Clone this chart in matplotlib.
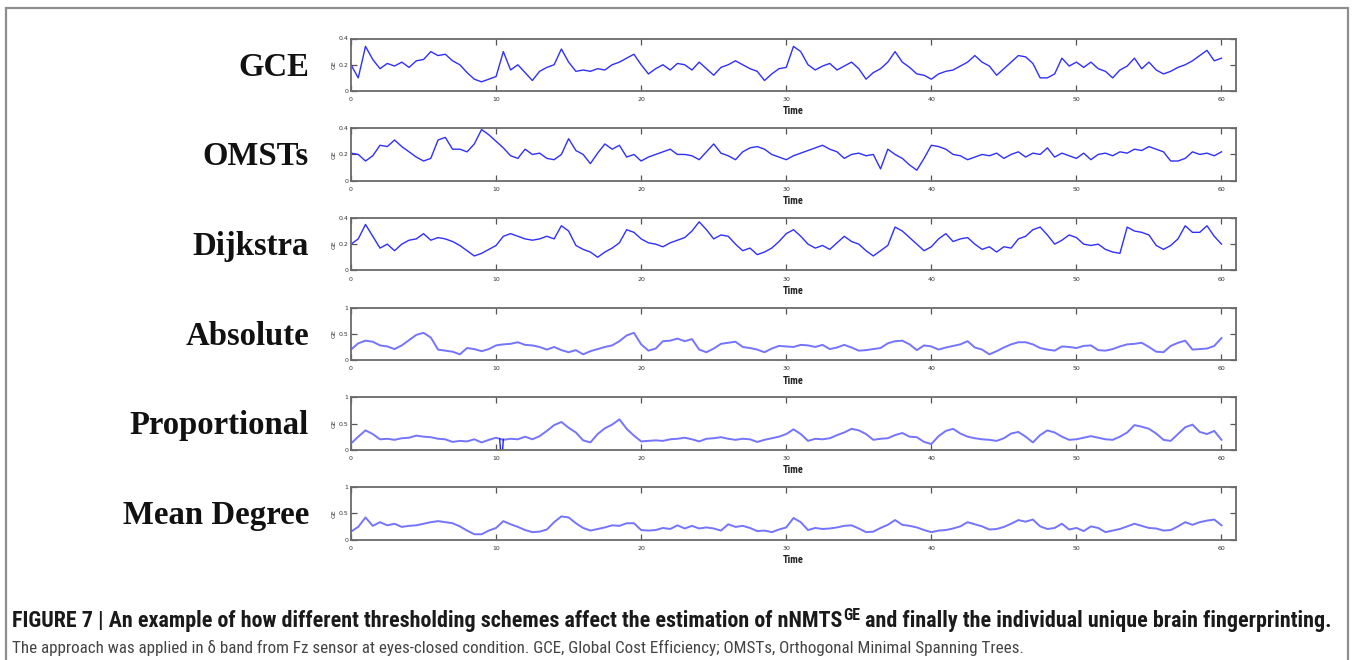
import os
import numpy as np
import matplotlib
matplotlib.use("Agg")
import matplotlib.pyplot as plt
from matplotlib.patches import Rectangle
from matplotlib import font_manager as fm

# ---------------- data (0.5 s steps, 0..60 s) ----------------
TIME = np.arange(0, 60.5, 0.5)

GCE = [0.20, 0.10, 0.34, 0.24, 0.17, 0.21, 0.19, 0.22, 0.18, 0.23,
       0.24, 0.30, 0.27, 0.28, 0.23, 0.20, 0.14, 0.09, 0.07, 0.09,
       0.11, 0.30, 0.16, 0.20, 0.14, 0.08, 0.15, 0.18, 0.20, 0.32,
       0.22, 0.15, 0.16, 0.15, 0.17, 0.16, 0.20, 0.22, 0.25, 0.28,
       0.20, 0.13, 0.17, 0.20, 0.16, 0.21, 0.20, 0.16, 0.22, 0.17,
       0.12, 0.18, 0.20, 0.23, 0.20, 0.17, 0.15, 0.08, 0.13, 0.17,
       0.18, 0.34, 0.30, 0.20, 0.16, 0.19, 0.21, 0.16, 0.19, 0.22,
       0.17, 0.09, 0.14, 0.17, 0.22, 0.30, 0.22, 0.18, 0.13, 0.12,
       0.09, 0.13, 0.15, 0.16, 0.19, 0.22, 0.27, 0.22, 0.19, 0.12,
       0.17, 0.22, 0.27, 0.26, 0.21, 0.10, 0.10, 0.13, 0.25, 0.19,
       0.22, 0.18, 0.22, 0.17, 0.15, 0.10, 0.16, 0.19, 0.25, 0.17,
       0.22, 0.16, 0.13, 0.15, 0.18, 0.20, 0.23, 0.27, 0.31, 0.23,
       0.25]

OMSTS = [0.21, 0.20, 0.15, 0.19, 0.27, 0.26, 0.31, 0.26, 0.22, 0.18,
         0.15, 0.17, 0.31, 0.33, 0.24, 0.24, 0.22, 0.28, 0.39, 0.35,
         0.30, 0.25, 0.19, 0.17, 0.24, 0.20, 0.21, 0.17, 0.16, 0.20,
         0.32, 0.23, 0.20, 0.13, 0.21, 0.28, 0.24, 0.27, 0.18, 0.20,
         0.15, 0.18, 0.20, 0.22, 0.24, 0.20, 0.20, 0.19, 0.16, 0.22,
         0.28, 0.21, 0.19, 0.16, 0.22, 0.25, 0.26, 0.24, 0.20, 0.18,
         0.16, 0.19, 0.21, 0.23, 0.25, 0.27, 0.24, 0.22, 0.17, 0.20,
         0.21, 0.19, 0.20, 0.09, 0.24, 0.20, 0.17, 0.12, 0.08, 0.17,
         0.27, 0.26, 0.24, 0.20, 0.19, 0.16, 0.18, 0.20, 0.19, 0.21,
         0.17, 0.20, 0.22, 0.18, 0.21, 0.20, 0.25, 0.18, 0.21, 0.19,
         0.17, 0.21, 0.16, 0.20, 0.21, 0.19, 0.22, 0.21, 0.24, 0.23,
         0.26, 0.24, 0.22, 0.15, 0.15, 0.17, 0.22, 0.20, 0.21, 0.19,
         0.22]

DIJKSTRA = [0.20, 0.24, 0.35, 0.26, 0.17, 0.20, 0.15, 0.20, 0.23, 0.24,
            0.28, 0.23, 0.25, 0.24, 0.22, 0.19, 0.15, 0.11, 0.13, 0.16,
            0.19, 0.26, 0.28, 0.26, 0.24, 0.23, 0.24, 0.26, 0.24, 0.34,
            0.30, 0.19, 0.16, 0.14, 0.10, 0.14, 0.17, 0.21, 0.31, 0.29,
            0.24, 0.21, 0.20, 0.18, 0.21, 0.23, 0.25, 0.30, 0.37, 0.31,
            0.24, 0.27, 0.26, 0.20, 0.15, 0.17, 0.12, 0.14, 0.17, 0.22,
            0.28, 0.31, 0.26, 0.20, 0.17, 0.19, 0.16, 0.21, 0.26, 0.22,
            0.20, 0.15, 0.11, 0.15, 0.19, 0.33, 0.30, 0.25, 0.20, 0.15,
            0.18, 0.24, 0.28, 0.22, 0.24, 0.25, 0.20, 0.16, 0.18, 0.14,
            0.18, 0.17, 0.24, 0.26, 0.31, 0.33, 0.27, 0.20, 0.23, 0.27,
            0.25, 0.20, 0.19, 0.20, 0.16, 0.14, 0.13, 0.33, 0.30, 0.29,
            0.27, 0.19, 0.16, 0.19, 0.24, 0.34, 0.29, 0.29, 0.34, 0.26,
            0.20]

ABSOLUTE = [0.20, 0.32, 0.37, 0.35, 0.28, 0.26, 0.21, 0.28, 0.38, 0.48,
            0.52, 0.43, 0.20, 0.18, 0.16, 0.11, 0.23, 0.21, 0.17, 0.21,
            0.28, 0.30, 0.31, 0.34, 0.29, 0.28, 0.25, 0.20, 0.25, 0.19,
            0.15, 0.19, 0.11, 0.17, 0.21, 0.25, 0.28, 0.36, 0.47, 0.52,
            0.30, 0.18, 0.22, 0.36, 0.37, 0.41, 0.36, 0.40, 0.20, 0.15,
            0.22, 0.31, 0.33, 0.35, 0.25, 0.23, 0.20, 0.15, 0.22, 0.27,
            0.26, 0.25, 0.29, 0.28, 0.25, 0.29, 0.21, 0.24, 0.29, 0.24,
            0.18, 0.19, 0.21, 0.23, 0.32, 0.36, 0.37, 0.30, 0.19, 0.28,
            0.26, 0.20, 0.24, 0.27, 0.30, 0.36, 0.24, 0.20, 0.11, 0.17,
            0.24, 0.30, 0.34, 0.34, 0.30, 0.23, 0.20, 0.18, 0.26, 0.25,
            0.23, 0.27, 0.28, 0.19, 0.18, 0.21, 0.26, 0.30, 0.31, 0.33,
            0.25, 0.16, 0.15, 0.27, 0.33, 0.37, 0.20, 0.21, 0.22, 0.27,
            0.42]

PROPORTIONAL = [0.12, 0.25, 0.37, 0.30, 0.20, 0.21, 0.19, 0.22, 0.23, 0.27,
                0.25, 0.24, 0.21, 0.20, 0.15, 0.17, 0.16, 0.20, 0.14, 0.19,
                0.23, 0.19, 0.21, 0.20, 0.25, 0.20, 0.26, 0.36, 0.47, 0.53,
                0.42, 0.33, 0.18, 0.14, 0.30, 0.41, 0.48, 0.58, 0.40, 0.27,
                0.16, 0.17, 0.18, 0.17, 0.20, 0.21, 0.23, 0.20, 0.16, 0.21,
                0.22, 0.24, 0.21, 0.19, 0.21, 0.20, 0.15, 0.19, 0.22, 0.25,
                0.30, 0.39, 0.30, 0.17, 0.21, 0.20, 0.22, 0.28, 0.33, 0.40,
                0.37, 0.30, 0.19, 0.21, 0.22, 0.28, 0.32, 0.25, 0.24, 0.15,
                0.11, 0.26, 0.36, 0.40, 0.31, 0.25, 0.22, 0.20, 0.19, 0.17,
                0.22, 0.31, 0.34, 0.25, 0.14, 0.28, 0.37, 0.33, 0.25, 0.19,
                0.20, 0.23, 0.26, 0.23, 0.20, 0.19, 0.25, 0.33, 0.47, 0.44,
                0.40, 0.31, 0.19, 0.17, 0.30, 0.43, 0.48, 0.34, 0.30, 0.36,
                0.19]
PROP_GLITCH_T = [10.25, 10.30, 10.45, 10.50]
PROP_GLITCH_V = [0.21, 0.00, 0.00, 0.20]

MEAN_DEGREE = [0.15, 0.24, 0.42, 0.26, 0.33, 0.27, 0.30, 0.24, 0.26, 0.27,
               0.30, 0.33, 0.35, 0.33, 0.31, 0.25, 0.17, 0.10, 0.10, 0.17,
               0.22, 0.35, 0.29, 0.24, 0.18, 0.14, 0.15, 0.19, 0.33, 0.44,
               0.42, 0.31, 0.22, 0.17, 0.20, 0.23, 0.27, 0.26, 0.31, 0.31,
               0.18, 0.17, 0.18, 0.22, 0.20, 0.27, 0.21, 0.26, 0.21, 0.23,
               0.21, 0.17, 0.29, 0.24, 0.26, 0.22, 0.16, 0.17, 0.14, 0.19,
               0.23, 0.41, 0.33, 0.18, 0.22, 0.20, 0.21, 0.23, 0.26, 0.27,
               0.21, 0.14, 0.15, 0.22, 0.28, 0.37, 0.28, 0.26, 0.23, 0.18,
               0.14, 0.17, 0.18, 0.21, 0.25, 0.33, 0.29, 0.25, 0.19, 0.20,
               0.24, 0.30, 0.37, 0.34, 0.38, 0.25, 0.20, 0.22, 0.30, 0.19,
               0.22, 0.16, 0.25, 0.22, 0.14, 0.17, 0.20, 0.25, 0.30, 0.26,
               0.22, 0.21, 0.17, 0.18, 0.25, 0.33, 0.28, 0.33, 0.36, 0.38,
               0.27]

PANEL_NAMES = ["GCE", "OMSTs", "Dijkstra", "Absolute", "Proportional", "Mean Degree"]
SERIES = [GCE, OMSTS, DIJKSTRA, ABSOLUTE, PROPORTIONAL, MEAN_DEGREE]
Y_MAX = [0.4, 0.4, 0.4, 1, 1, 1]
Y_TICKS = [[0, 0.2, 0.4]] * 3 + [[0, 0.5, 1]] * 3
Y_TICKLABELS = [["0", "0.2", "0.4"]] * 3 + [["0", "0.5", "1"]] * 3
X_TICKS = [0, 10, 20, 30, 40, 50, 60]
X_LABEL = "Time"
Y_LABEL = "GE"

CAPTION_1A = "FIGURE 7 | An example of how different thresholding schemes affect the estimation of nNMTS"
CAPTION_1B = "GE"
CAPTION_1C = " and finally the individual unique brain fingerprinting."
CAPTION_2 = ("The approach was applied in \u03b4 band from Fz sensor at eyes-closed condition. "
             "GCE, Global Cost Efficiency; OMSTs, Orthogonal Minimal Spanning Trees.")

# ---------------- fonts ----------------
installed = {f.name for f in fm.fontManager.ttflist}
SERIF = "Liberation Serif" if "Liberation Serif" in installed else "DejaVu Serif"


def find_condensed(bold):
    prefs = ["liberationsansnarrow", "robotocondensed", "dejavusanscondensed",
             "opensanscondensed", "opensans_condensed", "notosanscondensed"]
    files = [f.fname for f in fm.fontManager.ttflist]
    for p in prefs:
        for fn in files:
            base = os.path.basename(fn).lower().replace("-", "").replace(" ", "")
            if not base.startswith(p):
                continue
            rest = base[len(p):]
            if any(k in rest for k in ["italic", "oblique", "light", "medium", "thin",
                                       "black", "semibold", "extra"]):
                continue
            if bold and rest.startswith("bold"):
                return fm.FontProperties(fname=fn)
            if not bold and (rest.startswith("regular") or rest.startswith(".")):
                return fm.FontProperties(fname=fn)
    return fm.FontProperties(family="Liberation Sans", weight="bold" if bold else "normal")


CAP_BOLD = find_condensed(True)
CAP_REG = find_condensed(False)


def fp(base, size):
    p = base.copy()
    p.set_size(size)
    return p


# ---------------- figure ----------------
W, H = 1358, 660
fig = plt.figure(figsize=(W / 100, H / 100), dpi=100)
fig.patch.set_facecolor("white")


def rect(left, top, width, height):
    return [left / W, 1 - (top + height) / H, width / W, height / H]


AX_LEFT, AX_RIGHT = 351, 1236
TOPS = [38.5, 128.2, 217.9, 307.6, 397.3, 487.0]
AX_H = 52.5

fig.add_artist(Rectangle((6 / W, -0.02), (1348 - 6) / W, 1 - 8 / H + 0.02,
                         transform=fig.transFigure, fill=False,
                         edgecolor="#8e8e8e", linewidth=1.6))

renderer = fig.canvas.get_renderer()

probe = fig.text(0, 0, "Mean Degree", fontsize=20, family=SERIF, fontweight="bold")
pw = probe.get_window_extent(renderer).width
probe.remove()
LABEL_FS = 20 * 186 / pw
CAP_H_PX = 0.662 * LABEL_FS * 100 / 72

for i, (name, ys) in enumerate(zip(PANEL_NAMES, SERIES)):
    ax = fig.add_axes(rect(AX_LEFT, TOPS[i], AX_RIGHT - AX_LEFT, AX_H))
    if i < 3:
        ax.plot(TIME, ys, color="#2f2fff", linewidth=1.0)
    else:
        ax.plot(TIME, ys, color="#7474ff", linewidth=1.4)
    if name == "Proportional":
        ax.plot(PROP_GLITCH_T, PROP_GLITCH_V, color="#2222ff", linewidth=1.0)
    ax.set_xlim(0, 61)
    ax.set_ylim(0, Y_MAX[i])
    ax.set_xticks(X_TICKS)
    ax.set_xticklabels([str(t) for t in X_TICKS])
    ax.set_yticks(Y_TICKS[i])
    ax.set_yticklabels(Y_TICKLABELS[i])
    ax.tick_params(direction="in", top=True, right=True, length=4.5, width=0.9,
                   labelsize=4.5, color="#555555", labelcolor="#333333")
    ax.tick_params(axis="x", pad=4.5)
    ax.tick_params(axis="y", pad=2.0)
    for sp in ax.spines.values():
        sp.set_color("#6a6a6a")
        sp.set_linewidth(1.3)
    ax.set_xlabel(X_LABEL, fontproperties=fp(CAP_BOLD, 7.5), labelpad=3, color="#222222")
    ax.set_ylabel(Y_LABEL, fontsize=4.5, labelpad=1.5, color="#333333")
    base_y = TOPS[i] + AX_H / 2 + CAP_H_PX / 2
    fig.text(309 / W, 1 - base_y / H, name, ha="right", va="baseline",
             fontsize=LABEL_FS, family=SERIF, fontweight="bold", color="#111111")

# ---------------- caption ----------------
X0 = 12
TARGET_1 = 1328 - X0
TARGET_2 = 1021 - X0
BASE = 12.0


def width_of(s, prop, size):
    t = fig.text(0, 0, s, fontproperties=fp(prop, size))
    w = t.get_window_extent(renderer).width
    t.remove()
    return w


tot = (width_of(CAPTION_1A, CAP_BOLD, BASE) + width_of(CAPTION_1B, CAP_BOLD, BASE * 0.72)
       + width_of(CAPTION_1C, CAP_BOLD, BASE))
fs1 = BASE * TARGET_1 / tot
y1 = 1 - 627 / H
ta = fig.text(X0 / W, y1, CAPTION_1A, fontproperties=fp(CAP_BOLD, fs1),
              color="#1a1a1a", va="baseline")
wa = ta.get_window_extent(renderer).width
tb = fig.text((X0 + wa + 1) / W, y1 + 7 / H, CAPTION_1B, fontproperties=fp(CAP_BOLD, fs1 * 0.72),
              color="#1a1a1a", va="baseline")
wb = tb.get_window_extent(renderer).width
fig.text((X0 + wa + wb + 1) / W, y1, CAPTION_1C, fontproperties=fp(CAP_BOLD, fs1),
         color="#1a1a1a", va="baseline")

fs2 = BASE * TARGET_2 / width_of(CAPTION_2, CAP_REG, BASE)
fig.text(X0 / W, 1 - 653 / H, CAPTION_2, fontproperties=fp(CAP_REG, fs2),
         color="#444444", va="baseline")

fig.savefig("out.png", dpi=100, facecolor="white")
